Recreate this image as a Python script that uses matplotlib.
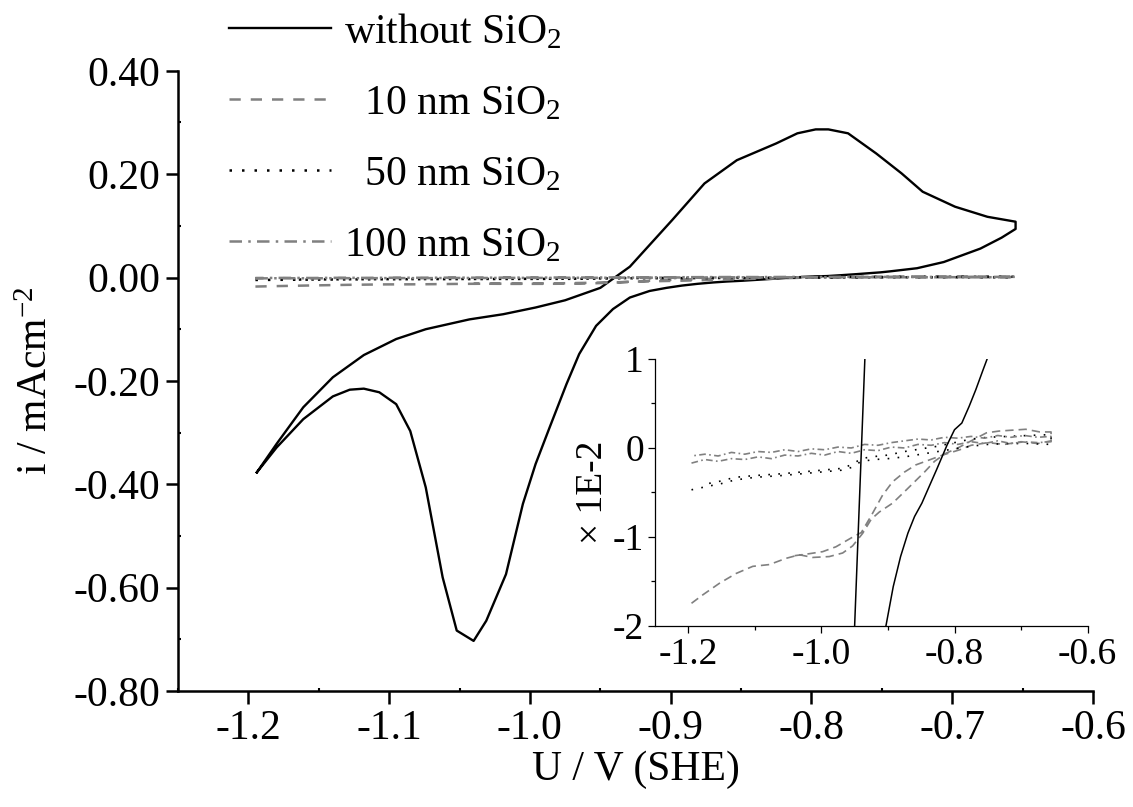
import matplotlib.pyplot as plt
import numpy as np
from matplotlib.ticker import MultipleLocator, FormatStrFormatter

plt.rcParams['font.family'] = ['Liberation Serif', 'DejaVu Serif']
plt.rcParams['mathtext.fontset'] = 'custom'
plt.rcParams['mathtext.rm'] = 'Liberation Serif'
plt.rcParams['mathtext.default'] = 'regular'
plt.rcParams['axes.unicode_minus'] = False

# Bare electrode CV, full loop (U in V vs SHE, i in mA/cm2)
u_bare = [-1.194, -1.180, -1.161, -1.140, -1.128, -1.118, -1.107, -1.095, -1.085,
          -1.074, -1.062, -1.052, -1.040, -1.031, -1.017, -1.005, -0.996, -0.986,
          -0.974, -0.965, -0.953, -0.941, -0.929, -0.915, -0.903, -0.892, -0.881,
          -0.870, -0.860, -0.849, -0.838, -0.827, -0.811, -0.800, -0.789, -0.778,
          -0.768, -0.757, -0.751, -0.744, -0.725, -0.706, -0.680, -0.665, -0.655,
          -0.655, -0.675, -0.698, -0.721, -0.736, -0.754, -0.774, -0.788, -0.797,
          -0.810, -0.825, -0.853, -0.876, -0.899, -0.929, -0.950, -0.975, -0.996,
          -1.019, -1.043, -1.074, -1.095, -1.118, -1.140, -1.161, -1.180, -1.194]
i_bare = [-0.377, -0.329, -0.274, -0.230, -0.217, -0.215, -0.222, -0.245, -0.297,
          -0.406, -0.580, -0.683, -0.703, -0.664, -0.574, -0.438, -0.361, -0.290,
          -0.206, -0.148, -0.0935, -0.061, -0.0387, -0.026, -0.0200, -0.01557, -0.0122,
          -0.00957, -0.0077, -0.0062, -0.00432, -0.00245, 0.00036, 0.00205, 0.0028, 0.00468,
          0.00655, 0.0088, 0.0100, 0.0120, 0.0180, 0.0300, 0.0560, 0.0770, 0.0940,
          0.108, 0.1175, 0.137, 0.166, 0.2015, 0.240, 0.279, 0.2866, 0.2866,
          0.279, 0.2595, 0.227, 0.182, 0.111, 0.021, -0.020, -0.044, -0.058,
          -0.071, -0.081, -0.100, -0.119, -0.150, -0.193, -0.251, -0.322, -0.377]

# SiO2-coated electrodes, currents in units of 1E-2 mA/cm2
u_10nm = [-1.195, -1.178, -1.153, -1.128, -1.103, -1.078, -1.053, -1.033, -1.013, -0.988,
          -0.968, -0.953, -0.938, -0.925, -0.913, -0.893, -0.875, -0.860, -0.845, -0.830,
          -0.813, -0.795, -0.775, -0.752, -0.733, -0.713, -0.693, -0.672, -0.655,
          -0.655, -0.675, -0.700, -0.725, -0.750, -0.775, -0.792, -0.818, -0.838, -0.858,
          -0.875, -0.893, -0.908, -0.925, -0.940, -0.955, -0.978, -0.998, -1.020, -1.040]
i_10nm = [-1.745, -1.65, -1.52, -1.41, -1.33, -1.31, -1.24, -1.20, -1.23, -1.22,
          -1.18, -1.10, -0.96, -0.80, -0.72, -0.62, -0.49, -0.38, -0.27, -0.15,
          -0.06, 0.00, 0.08, 0.17, 0.19, 0.20, 0.21, 0.18, 0.18,
          0.08, 0.05, 0.07, 0.04, 0.06, 0.03, -0.02, -0.08, -0.135, -0.19,
          -0.27, -0.38, -0.53, -0.76, -0.95, -1.01, -1.11, -1.165, -1.19, -1.21]

u_50nm = [-1.195, -1.17, -1.15, -1.13, -1.10, -1.06, -1.03, -1.00, -0.97, -0.955, -0.94,
          -0.92, -0.90, -0.875, -0.85, -0.825, -0.80, -0.775, -0.75, -0.72, -0.69, -0.655,
          -0.655, -0.69, -0.72, -0.75, -0.775, -0.80, -0.825, -0.85, -0.875, -0.90, -0.925,
          -0.94, -0.955, -0.97, -1.00, -1.03, -1.06, -1.10, -1.13, -1.15, -1.17]
i_50nm = [-0.47, -0.43, -0.40, -0.36, -0.33, -0.31, -0.29, -0.27, -0.25, -0.22, -0.15,
          -0.13, -0.12, -0.10, -0.07, -0.04, -0.01, 0.02, 0.04, 0.05, 0.05, 0.04,
          0.15, 0.14, 0.13, 0.12, 0.10, 0.06, 0.02, -0.01, -0.04, -0.08, -0.10,
          -0.12, -0.19, -0.23, -0.25, -0.27, -0.29, -0.31, -0.33, -0.37, -0.40]

u_scan = [-1.195, -1.175, -1.155, -1.135, -1.115, -1.095, -1.075, -1.055, -1.035, -1.015,
          -0.995, -0.975, -0.955, -0.935, -0.915, -0.895, -0.875, -0.855, -0.835, -0.815,
          -0.795, -0.775, -0.755, -0.735, -0.715, -0.695, -0.675, -0.655]
i_100nm_fwd = [-0.17, -0.13, -0.15, -0.12, -0.13, -0.10, -0.12, -0.08, -0.09, -0.06,
               -0.08, -0.04, -0.06, -0.02, -0.03, 0.01, 0.00, 0.04, 0.03, 0.06,
               0.04, 0.07, 0.05, 0.08, 0.05, 0.07, 0.06, 0.07]
i_100nm_rev = [0.13, 0.12, 0.14, 0.12, 0.14, 0.11, 0.13, 0.11, 0.12, 0.09,
               0.10, 0.08, 0.06, 0.03, 0.04, 0.00, 0.01, -0.02, -0.01, -0.04,
               -0.02, -0.05, -0.04, -0.07, -0.05, -0.09, -0.07, -0.09]
u_100nm = u_scan + u_scan[::-1]
i_100nm = i_100nm_fwd + i_100nm_rev

GREY = '#808080'
series = [
    (u_bare, np.array(i_bare), 'black', '-', 'without SiO$_2$'),
    (u_10nm, np.array(i_10nm) * 1e-2, GREY, (0, (4.5, 4)), '  10 nm SiO$_2$'),
    (u_50nm, np.array(i_50nm) * 1e-2, 'black', (0, (1, 4)), '  50 nm SiO$_2$'),
    (u_100nm, np.array(i_100nm) * 1e-2, GREY, (0, (5, 2.5, 1, 2.5)), '100 nm SiO$_2$'),
]

fig = plt.figure(figsize=(11.33, 8.07), dpi=100)
ax = fig.add_axes([0.1571, 0.1437, 0.8076, 0.7686])

handles = []
for u, i, c, ls, lab in series:
    lw = 1.7 if ls == '-' else 1.8
    h, = ax.plot(u, i, color=c, ls=ls, lw=lw, label=lab)
    handles.append(h)

ax.set_xlim(-1.25, -0.6)
ax.set_ylim(-0.8, 0.4)
ax.set_xticks([-1.2, -1.1, -1.0, -0.9, -0.8, -0.7, -0.6])
ax.set_yticks([-0.8, -0.6, -0.4, -0.2, 0.0, 0.2, 0.4])
ax.xaxis.set_major_formatter(FormatStrFormatter('%.1f'))
ax.yaxis.set_major_formatter(FormatStrFormatter('%.2f'))
ax.xaxis.set_minor_locator(MultipleLocator(0.05))
ax.yaxis.set_minor_locator(MultipleLocator(0.1))
ax.tick_params(which='major', direction='out', length=9, width=1.8, labelsize=30, pad=4)
ax.tick_params(which='minor', direction='in', length=2.5, width=1.5)
for s in ['top', 'right']:
    ax.spines[s].set_visible(False)
for s in ['left', 'bottom']:
    ax.spines[s].set_linewidth(1.8)
ax.set_xlabel('U / V (SHE)', fontsize=30, labelpad=2)
ax.set_ylabel('i / mAcm$^{-2}$', fontsize=30, labelpad=12)

ax.legend(handles=handles, loc='upper left', bbox_to_anchor=(0.2021, 0.985),
          bbox_transform=fig.transFigure, frameon=False, fontsize=30,
          handlelength=2.45, handletextpad=0.3, labelspacing=0.78,
          borderpad=0, borderaxespad=0)

# zoomed view around zero current
ins = fig.add_axes([0.578, 0.2243, 0.382, 0.3309])
ins.patch.set_alpha(0)
for u, i, c, ls, lab in series:
    if ls == '-':
        ins.plot(u, i * 100, color=c, ls='-', lw=1.1, zorder=3)
    else:
        dash = {(0, (4.5, 4)): (0, (5, 3)), (0, (1, 4)): (0, (1, 5)),
                (0, (5, 2.5, 1, 2.5)): (0, (4, 2, 1, 2))}[ls]
        ins.plot(u, i * 100, color=c, ls=dash, lw=1.2, zorder=2)
ins.set_xlim(-1.25, -0.6)
ins.set_ylim(-2, 1)
ins.set_xticks([-1.2, -1.0, -0.8, -0.6])
ins.set_yticks([-2, -1, 0, 1])
ins.xaxis.set_major_formatter(FormatStrFormatter('%.1f'))
ins.yaxis.set_major_formatter(FormatStrFormatter('%d'))
ins.xaxis.set_minor_locator(MultipleLocator(0.1))
ins.yaxis.set_minor_locator(MultipleLocator(0.5))
ins.tick_params(which='major', direction='out', length=5, width=0.9, labelsize=27, pad=3)
ins.tick_params(which='minor', direction='out', length=3, width=0.9)
for s in ['top', 'right']:
    ins.spines[s].set_visible(False)
for s in ['left', 'bottom']:
    ins.spines[s].set_linewidth(0.9)
ins.set_ylabel('× 1E-2', fontsize=27, labelpad=2)

fig.savefig('out.png', dpi=100)
